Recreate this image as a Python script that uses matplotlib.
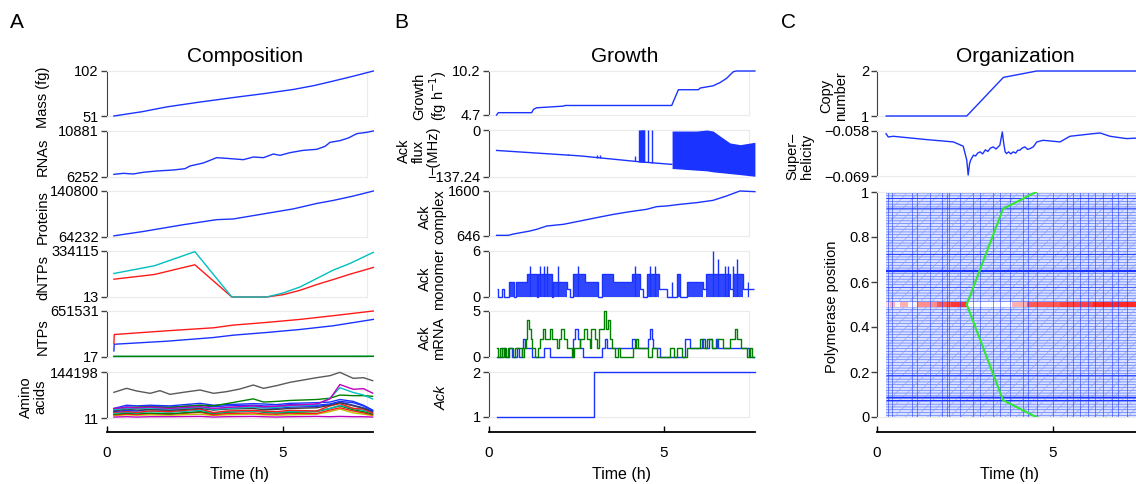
import numpy as np
import matplotlib.pyplot as plt
from matplotlib.colors import LinearSegmentedColormap

plt.rcParams['font.family'] = ['Liberation Sans', 'DejaVu Sans']
plt.rcParams['hatch.linewidth'] = 0.45

W, H = 1136, 484
BLUE = (0.1, 0.2, 1.0)
GREEN = (0.0, 0.5, 0.0)
RED = (1.0, 0.1, 0.1)
CYAN = (0.0, 0.75, 0.75)
MAGENTA = (0.75, 0.0, 0.75)
YELLOW = (0.75, 0.75, 0.0)
GRAY = (0.35, 0.35, 0.35)
DARK = (0.25, 0.25, 0.25)
FRAME = (0.92, 0.92, 0.92)

# ---------------- A: Composition ----------------
mass_t = [0.21, 1.0, 1.71, 2.6, 3.6, 4.5, 5.31, 5.9, 6.44, 7.0, 7.58]
mass = [51, 55.8, 61.3, 66.5, 71.9, 76.5, 81.1, 85.5, 90.6, 96.0, 102]

rna_t = [0.21, 0.48, 0.76, 1.04, 1.42, 1.90, 2.23, 2.37, 2.75, 3.13, 3.41, 3.89, 4.17, 4.46,
         4.74, 4.93, 5.21, 5.59, 5.97, 6.21, 6.35, 6.63, 6.87, 7.11, 7.39, 7.58]
rna = [6520, 6621, 6554, 6722, 6856, 6956, 7091, 7359, 7661, 8197, 8130, 7996, 8264, 8197,
       8566, 8432, 8700, 8935, 9036, 9338, 9740, 9908, 10176, 10612, 10746, 10881]

prot_t = [0.21, 1.05, 2.18, 3.13, 3.6, 4.17, 5.31, 5.97, 6.44, 7.01, 7.58]
prot = [65366, 72737, 84077, 92582, 93716, 99386, 110726, 119798, 124901, 132272, 140800]

dntp_t = [0.21, 1.36, 2.51, 3.56, 4.55, 5.02, 5.5, 5.97, 6.44, 6.92, 7.58]
dntp_cyan = [170740, 226800, 329240, 13, 13, 29280, 73170, 134000, 195120, 243900, 324360]
dntp_red = [129280, 163400, 234140, 13, 13, 17083, 48780, 90200, 126780, 165800, 214570]

ntp_t = [0.21, 0.22, 1.71, 3.04, 3.6, 4.55, 5.5, 6.44, 7.58]
ntp_red = [190236, 318630, 370940, 413740, 451780, 489830, 532630, 584940, 651531]
ntp_blue = [85620, 180730, 223530, 275840, 309130, 347170, 389970, 442280, 532630]
ntp_green = [9500, 9200, 9400, 9300, 9600, 9500, 9800, 10100, 10400]
ntp_cyan = [7600, 7500, 7700, 7600, 7800, 7900, 8000, 8200, 8500]

aa_gray_t = [0.21, 0.57, 0.86, 1.24, 1.52, 1.80, 2.18, 2.66, 3.04, 3.41, 3.79, 4.17, 4.46,
             4.83, 5.21, 5.59, 5.97, 6.35, 6.63, 7.01, 7.30, 7.56]
aa_gray = [80460, 93000, 84640, 77330, 85690, 74190, 80460, 87770, 77330, 82550, 90910, 103450,
           93000, 101360, 111800, 119120, 126430, 132700, 143150, 124340, 126430, 117030]
aa_t = [0.21, 0.57, 0.86, 1.24, 1.80, 2.66, 3.04, 3.41, 4.17, 4.46, 4.83, 5.21, 5.97, 6.35,
        6.63, 7.01, 7.30, 7.56]
aa_magenta = [30000, 33000, 32000, 34000, 30000, 36000, 30000, 33000, 38000, 35000, 37000, 40000,
              44000, 60000, 105000, 90000, 92000, 78000]
aa_cyan = [27000, 30000, 29000, 31000, 28000, 34000, 27000, 30000, 34000, 32000, 33000, 38000,
           42000, 62000, 95000, 80000, 72000, 60000]
aa_green = [28000, 32000, 34000, 35000, 33000, 40000, 38000, 45000, 60000, 50000, 52000, 55000,
            58000, 62000, 72000, 70000, 70000, 68000]
aa_blue1 = [30000, 40000, 38000, 40000, 38000, 46000, 40000, 42000, 45000, 44000, 42000, 46000,
            48000, 50000, 58000, 52000, 40000, 25000]
aa_blue2 = [25000, 35000, 33000, 36000, 34000, 40000, 35000, 38000, 40000, 38000, 37000, 42000,
            40000, 44000, 52000, 48000, 38000, 22000]
aa_dark = [22000, 28000, 25000, 26000, 24000, 30000, 25000, 28000, 30000, 26000, 27000, 30000,
           32000, 40000, 48000, 38000, 30000, 20000]
aa_blue3 = [20000, 24000, 22000, 28000, 25000, 34000, 26000, 30000, 34000, 32000, 30000, 34000,
            36000, 42000, 50000, 40000, 32000, 22000]
aa_red = [18000, 20000, 18000, 22000, 20000, 28000, 17000, 22000, 24000, 22000, 20000, 24000,
          22000, 38000, 45000, 30000, 28000, 15000]
aa_cyan2 = [15000, 18000, 16000, 20000, 18000, 24000, 16000, 20000, 22000, 20000, 18000, 20000,
            22000, 30000, 40000, 30000, 24000, 16000]
aa_green2 = [12000, 15000, 14000, 15000, 13000, 20000, 14000, 18000, 22000, 18000, 16000, 18000,
             20000, 30000, 38000, 26000, 20000, 12000]
aa_red2 = [10000, 12000, 11000, 14000, 12000, 18000, 10000, 14000, 16000, 13000, 12000, 15000,
           14000, 25000, 32000, 22000, 16000, 10000]
aa_yellow = [8000, 10000, 9000, 10000, 9000, 12000, 8000, 10000, 12000, 10000, 9000, 10000,
             12000, 20000, 28000, 16000, 12000, 8000]
aa_magenta2 = [3000, 4000, 3000, 4000, 4000, 5000, 3000, 4000, 5000, 4000, 3000, 4000, 5000,
               4000, 5000, 4000, 4000, 3000]

# ---------------- B: Growth ----------------
growth_t = [0.23, 0.28, 1.23, 1.28, 1.37, 2.13, 2.18, 5.22, 5.27, 5.41, 5.98, 6.03, 6.40, 6.60,
            6.79, 6.88, 6.98, 7.07, 7.59]
growth = [4.7, 4.99, 4.99, 5.40, 5.60, 5.81, 5.89, 5.89, 6.42, 7.86, 7.86, 8.07, 8.35, 8.76,
          9.30, 9.71, 10.12, 10.2, 10.2]

flux_t = [0.23, 2.61, 4.27, 5.22]
flux = [-59.7, -75.6, -92.5, -100.4]
flux_spike_t = [2.27, 3.08, 3.18, 4.17, 4.30, 4.32, 4.34, 4.36, 4.38, 4.40, 4.42, 4.44, 4.55, 4.65]
flux_spike_top = [-69.6, -72.6, -72.6, -74.6, 0, 0, 0, 0, 0, 0, 0, 0, 0, 0]
flux_band_t = [5.23, 5.93, 6.22, 6.40, 6.60, 6.88, 7.17, 7.59]
flux_band_hi = [-3, -3, 0, -3, -17.9, -37.8, -42.8, -35.8]
flux_band_lo = [-112.4, -117.3, -119.3, -122.3, -124.3, -127.3, -130.3, -135.2]

complex_t = [0.23, 0.56, 0.71, 1.18, 1.37, 1.66, 2.13, 2.61, 3.08, 3.56, 4.03, 4.5, 4.79, 5.07,
             5.45, 5.93, 6.40, 6.78, 7.16, 7.59]
complex_n = [660, 660, 688, 752, 787, 858, 893, 964, 1035, 1105, 1162, 1211, 1268, 1282, 1317,
             1353, 1402, 1494, 1600, 1586]

mono_edges = [0.23, 0.27, 0.38, 0.43, 0.59, 0.74, 0.78, 1.09, 1.38, 1.42, 1.80, 1.85, 2.23, 2.33,
              2.42, 2.75, 3.13, 3.23, 3.56, 3.84, 4.08, 4.32, 4.39, 4.51, 4.87, 5.08, 5.36, 5.47,
              5.65, 6.12, 6.21, 6.36, 6.88, 6.97, 7.26, 7.55]
mono_top = [1, 0, 1, 0, 2, 0, 2, 3, 0, 3, 0, 2, 1, 0, 3, 2, 0, 3, 2, 2, 3, 1, 0, 3, 1, 0, 3, 0,
            2, 1, 3, 3, 1, 3, 1]
mono_dense = [0, 0, 0, 0, 1, 0, 1, 1, 0, 1, 0, 1, 0, 0, 1, 1, 0, 1, 1, 1, 1, 0, 0, 1, 0, 0, 1, 0,
              1, 0, 1, 1, 0, 1, 0]
mono_spike_t = [1.19, 1.47, 1.57, 1.66, 1.97, 2.55, 4.17, 4.60, 4.74, 5.22, 6.41, 6.55, 6.74,
                6.83, 6.97, 7.09, 7.40]
mono_spike_h = [4, 4, 4, 4, 4, 4, 4, 4, 4, 2, 6, 5, 4, 4, 4, 5, 2]

mrna_g_t = [0.24, 0.28, 0.33, 0.38, 0.43, 0.49, 0.55, 0.71, 0.76, 0.95, 1.0, 1.06, 1.11, 1.16,
            1.21, 1.25, 1.33, 1.42, 1.47, 1.54, 1.61, 1.76, 1.82, 1.95, 2.01, 2.07, 2.14, 2.23,
            2.37, 2.45, 2.61, 2.73, 2.80, 2.88, 2.92, 3.02, 3.09, 3.15, 3.28, 3.34, 3.40, 3.46,
            3.51, 3.61, 3.70, 3.75, 4.13, 4.20, 4.27, 4.55, 4.65, 4.79, 5.17, 5.28, 5.36, 5.50,
            5.65, 6.03, 6.12, 6.23, 6.36, 6.50, 6.69, 6.88, 7.02, 7.09, 7.18, 7.36, 7.45, 7.50,
            7.55]
mrna_g = [1, 0, 1, 0, 1, 0, 1, 0, 1, 0, 1, 2, 4, 3, 2, 1, 0, 1, 2, 3, 2, 3, 2, 1, 2, 3, 2, 1, 0,
          1, 2, 3, 2, 1, 3, 2, 1, 3, 5, 3, 4, 2, 1, 0, 1, 0, 1, 2, 1, 0, 1, 0, 1, 0, 1, 0, 1, 2,
          1, 2, 1, 2, 1, 2, 3, 2, 1, 0, 1, 0, 0]
mrna_b_t = [0.24, 0.38, 0.47, 0.59, 0.66, 0.81, 0.87, 0.95, 0.99, 1.03, 1.23, 1.57, 1.76, 2.42,
            2.47, 2.55, 2.61, 2.68, 3.23, 3.32, 3.37, 4.08, 4.17, 4.55, 4.60, 4.65, 4.70, 4.89,
            5.60, 5.74, 6.07, 6.17, 6.29, 6.36, 6.48, 6.55, 7.26, 7.43, 7.55]
mrna_b = [0, 1, 0, 1, 0, 1, 0, 1, 2, 1, 0, 1, 0, 2, 3, 2, 1, 0, 1, 2, 1, 2, 1, 2, 3, 2, 1, 0, 2,
          1, 2, 1, 2, 1, 2, 1, 1, 0, 0]

gene_t = [0.23, 3.01, 7.59]
gene = [1, 2, 2]

# ---------------- C: Organization ----------------
copy_t = [0.26, 2.55, 3.59, 4.54, 7.45]
copy_n = [1, 1, 1.858, 2, 2]

sh_t = [0.256, 0.32, 0.46, 1.41, 2.17, 2.45, 2.55, 2.59, 2.63, 2.66, 2.70, 2.74, 2.80, 2.86, 2.93,
        3.00, 3.08, 3.15, 3.22, 3.30, 3.38, 3.49, 3.56, 3.60, 3.64, 3.68, 3.74, 3.80, 3.87, 3.94,
        4.00, 4.06, 4.12, 4.20, 4.28, 4.35, 4.44, 4.54, 4.72, 5.20, 5.48, 6.14, 6.34, 6.62, 7.09,
        7.45]
sh = [-0.05865, -0.05946, -0.05929, -0.0601, -0.06067, -0.06172, -0.06512, -0.06876, -0.0660,
      -0.06512, -0.0645, -0.06391, -0.0641, -0.0634, -0.0631, -0.0636, -0.0626, -0.0630, -0.0622,
      -0.06188, -0.0624, -0.06148, -0.05824, -0.0610, -0.0631, -0.0635, -0.0631, -0.0636, -0.0631,
      -0.0634, -0.0627, -0.06269, -0.0622, -0.06188, -0.0625, -0.06229, -0.06188, -0.06067,
      -0.06027, -0.06067, -0.05929, -0.05865, -0.05849, -0.05929, -0.05986, -0.0597]

fork_t = [2.55, 3.58, 4.52]
fork_up = [0.5, 0.925, 1.0]
fork_down = [0.5, 0.075, 0.0]

pol_vlines = [0.32, 0.42, 1.0, 1.13, 1.5, 1.84, 1.98, 2.05, 2.36, 2.74, 2.93, 3.30, 3.49, 3.78,
              4.16, 4.30, 4.54, 5.01, 5.39, 5.58, 5.77, 6.00, 6.19, 6.43, 6.67, 6.86, 7.09]
pol_hlines = [0.65, 0.09, 0.075, 0.724, 0.187, 0.975, 0.93, 0.58]
pol_hwidth = [1.6, 1.0, 0.7, 0.6, 0.6, 0.6, 0.5, 0.4]

band_edges = [0.26, 0.38, 0.51, 0.65, 0.89, 1.13, 1.70, 2.10, 2.55, 3.83, 4.25, 5.20, 6.14, 7.45]
band_int = [0.15, 0.35, 0.05, 0.35, 0.05, 0.5, 0.75, 0.9, 0.0, 0.35, 0.75, 0.85, 0.95]


fig = plt.figure(figsize=(W / 100, H / 100), dpi=100)


def px_axes(left, top, right, bottom):
    return fig.add_axes([left / W, 1 - bottom / H, (right - left) / W, (bottom - top) / H])


def panel(left, right, top, bottom, xmax, lo, hi, labels):
    ax = px_axes(left, top, right, bottom)
    ax.set_xlim(0, xmax)
    ax.set_ylim(lo, hi)
    ax.set_xticks([])
    ax.set_yticks([lo, hi])
    ax.set_yticklabels(labels)
    for s in ['top', 'right', 'bottom']:
        ax.spines[s].set_color(FRAME)
        ax.spines[s].set_linewidth(0.8)
    ax.spines['left'].set_color(DARK)
    ax.tick_params(axis='y', direction='out', length=4, width=1, color=DARK, labelsize=10.5, pad=1.5)
    return ax


def ylabel(x, y, text, **kw):
    fig.text(x / W, 1 - y / H, text, rotation=90, ha='center', va='center',
             multialignment='center', fontsize=10.5, linespacing=1.05, **kw)


def time_axis(left, right, xmax, xlabel_x):
    ax = px_axes(left, 431, right, 432)
    ax.set_xlim(0, xmax)
    ax.set_yticks([])
    for s in ['top', 'right', 'left']:
        ax.spines[s].set_visible(False)
    ax.spines['bottom'].set_linewidth(1.3)
    ax.set_xticks([0, 5])
    ax.tick_params(axis='x', direction='in', length=4, width=1, labelsize=11, pad=10)
    fig.text(xlabel_x / W, 1 - 475 / H, 'Time (h)', ha='center', va='center', fontsize=11.5)


rows = [(71, 116), (131, 177), (191, 236.5), (251, 297), (311, 357), (372, 418)]
kw = dict(lw=1.0, clip_on=False, zorder=3)

# ---- A
aL, aR, aX = 106.5, 367, (367 - 106.5) / 35.2
ax = panel(aL, aR, *rows[0], aX, 51, 102, ['51', '102'])
ax.plot(mass_t, mass, color=BLUE, **kw)
ylabel(43, 97, 'Mass (fg)')

ax = panel(aL, aR, *rows[1], aX, 6252, 10881, ['6252', '10881'])
ax.plot(rna_t, rna, color=BLUE, **kw)
ylabel(43, 157, 'RNAs')

ax = panel(aL, aR, *rows[2], aX, 64232, 140800, ['64232', '140800'])
ax.plot(prot_t, prot, color=BLUE, **kw)
ylabel(43, 217, 'Proteins')

ax = panel(aL, aR, *rows[3], aX, 13, 334115, ['13', '334115'])
ax.plot(dntp_t, dntp_red, color=RED, **kw)
ax.plot(dntp_t, dntp_cyan, color=CYAN, **kw)
ylabel(43, 277, 'dNTPs')

ax = panel(aL, aR, *rows[4], aX, 17, 651531, ['17', '651531'])
ax.plot(ntp_t, ntp_cyan, color=CYAN, **kw)
ax.plot(ntp_t, ntp_green, color=GREEN, **kw)
ax.plot(ntp_t, ntp_blue, color=BLUE, **kw)
ax.plot(ntp_t, ntp_red, color=RED, **kw)
ylabel(43, 337, 'NTPs')

ax = panel(aL, aR, *rows[5], aX, 11, 144198, ['11', '144198'])
ax.plot(aa_gray_t, aa_gray, color=GRAY, **kw)
for vals, c in [(aa_magenta2, MAGENTA), (aa_yellow, YELLOW), (aa_red2, RED), (aa_green2, GREEN),
                (aa_cyan2, CYAN), (aa_red, RED), (aa_blue3, BLUE), (aa_dark, DARK),
                (aa_blue2, BLUE), (aa_blue1, BLUE), (aa_green, GREEN), (aa_cyan, CYAN),
                (aa_magenta, MAGENTA)]:
    ax.plot(aa_t, vals, color=c, **kw)
ylabel(33, 397, 'Amino\nacids')

time_axis(aL, 373, (373 - 106.5) / 35.2, 240)

# ---- B
bL, bR, bX = 488.5, 749, (749 - 488.5) / 35.1
ax = panel(bL, bR, 71, 115, bX, 4.7, 10.2, ['4.7', '10.2'])
ax.plot(growth_t, growth, color=BLUE, **kw)
ylabel(431, 96, 'Growth\n(fg h$^{-1}$)')

ax = panel(bL, bR, 130, 177, bX, -137.24, 0, ['\u2212137.24', '0'])
ax.plot(flux_t, flux, color=BLUE, **kw)
base = np.interp(flux_spike_t, flux_t, flux)
ax.vlines(flux_spike_t, base, flux_spike_top, color=BLUE, lw=1.0, zorder=3)
ax.fill_between(flux_band_t, flux_band_lo, flux_band_hi, color=BLUE, lw=0, clip_on=False, zorder=3)
ylabel(419, 151, 'Ack\nflux\n\u2212(MHz)')

ax = panel(bL, bR, 191, 236, bX, 646, 1600, ['646', '1600'])
ax.plot(complex_t, complex_n, color=BLUE, **kw)
ylabel(432, 217, 'Ack\ncomplex')

ax = panel(bL, bR, 251, 297, bX, 0, 6, ['0', '6'])
dense_top = np.where(np.array(mono_dense) == 1, mono_top, 0)
ax.stairs(dense_top, mono_edges, baseline=0, fill=True, color=BLUE, alpha=0.9, lw=0,
          clip_on=False, zorder=3)
ax.stairs(mono_top, mono_edges, baseline=None, color=BLUE, lw=1.0, clip_on=False, zorder=3)
ax.vlines(mono_spike_t, 0, mono_spike_h, color=BLUE, lw=1.0, zorder=3)
ylabel(432, 279, 'Ack\nmonomer')

ax = panel(bL, bR, 311, 357, bX, 0, 5, ['0', '5'])
ax.step(mrna_b_t, mrna_b, where='post', color=BLUE, **kw)
ax.step(mrna_g_t, mrna_g, where='post', color=GREEN, **kw)
ylabel(432, 338, 'Ack\nmRNA')

ax = panel(bL, bR, 372, 417, bX, 1, 2, ['1', '2'])
ax.step(gene_t, gene, where='post', color=BLUE, **kw)
ylabel(442, 398, 'Ack', style='italic')

time_axis(bL, 755, (755 - 488.5) / 35.1, 622)

# ---- C
cL, cR, cX = 877, 1146, (1146 - 877) / 35.2
ax = panel(cL, cR, 71, 116, cX, 1, 2, ['1', '2'])
ax.plot(copy_t, copy_n, color=BLUE, **kw)
ylabel(834, 96, 'Copy\nnumber')

ax = panel(cL, cR, 131, 176, cX, -0.069, -0.058, ['\u22120.069', '\u22120.058'])
ax.plot(sh_t, sh, color=BLUE, **kw)
ylabel(800, 156, 'Super\u2013\nhelicity')

ax = panel(cL, cR, 192, 417, cX, 0, 1, ['0', '1'])
ax.set_yticks([0, 0.2, 0.4, 0.6, 0.8, 1])
ax.set_yticklabels(['0', '0.2', '0.4', '0.6', '0.8', '1'])
ax.fill_between([copy_t[0], cX], 0, 1, facecolor=(0.86, 0.89, 1.0), edgecolor=(0.3, 0.42, 1.0),
                hatch='------', lw=0)
ax.fill_between([copy_t[0], cX], 0, 1, facecolor='none', edgecolor=(0.55, 0.63, 1.0),
                hatch='///', lw=0)
ax.vlines(pol_vlines, 0, 1, color=BLUE, lw=0.7, alpha=0.55)
ax.hlines(pol_hlines, copy_t[0], cX, color=BLUE, lw=pol_hwidth)
red_cmap = LinearSegmentedColormap.from_list('band', ['white', (1.0, 0.12, 0.12)])
ax.pcolormesh(band_edges, [0.49, 0.513], [band_int], cmap=red_cmap, vmin=0, vmax=1)
ax.plot(fork_t, fork_up, color=(0.2, 0.9, 0.2), lw=1.5, zorder=3)
ax.plot(fork_t, fork_down, color=(0.2, 0.9, 0.2), lw=1.5, zorder=3)
ylabel(832, 307, 'Polymerase position')

time_axis(cL, 1146, (1146 - 877) / 35.2, 1010)

# titles and panel letters
for x, t in [(245, 'Composition'), (625, 'Growth'), (1015, 'Organization')]:
    fig.text(x / W, 1 - 57 / H, t, ha='center', va='center', fontsize=15)
for x, t in [(17, 'A'), (401, 'B'), (788, 'C')]:
    fig.text(x / W, 1 - 22 / H, t, ha='center', va='center', fontsize=15)

fig.savefig('out.png', dpi=100)
